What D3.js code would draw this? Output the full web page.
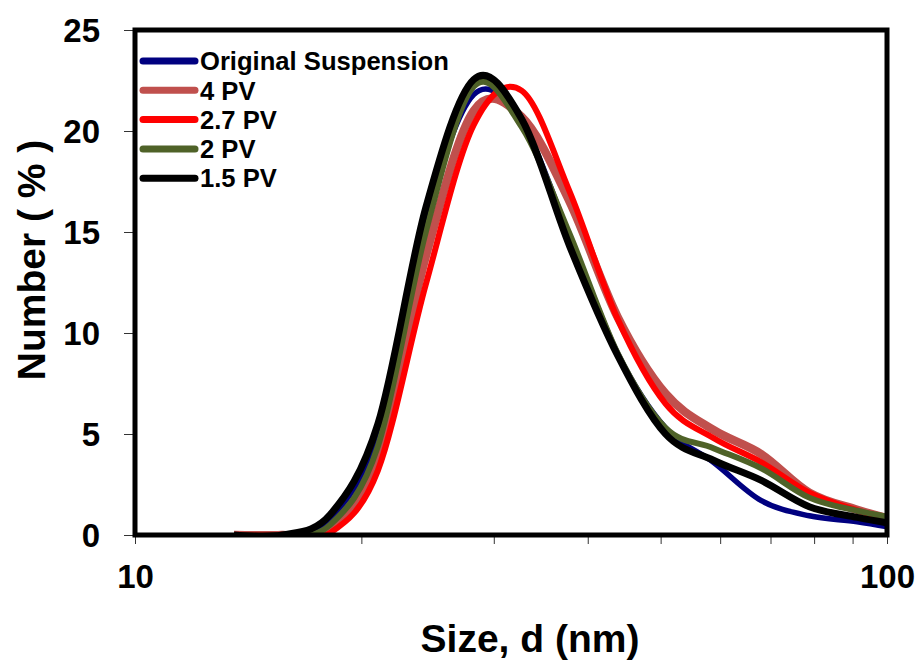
<!DOCTYPE html>
<html>
<head>
<meta charset="utf-8">
<script src="https://cdn.jsdelivr.net/npm/d3@7"></script>
<style>
  body { margin: 0; background: #fff; }
  svg { font-family: "Liberation Sans", Arial, sans-serif; font-weight: bold; }
</style>
</head>
<body>
<svg width="920" height="667"></svg>
<script>
// DLS number distribution, bin centres in nm
const sizes = [13.54, 15.69, 18.17, 21.04, 24.36, 28.21, 32.67, 37.84, 43.82, 50.75, 58.77, 68.06, 78.82, 91.28, 105.7];

const original = [0, 0, 0.8, 5.0, 15.6, 21.8, 20.4, 14.8, 9.0, 5.3, 3.6, 1.7, 0.95, 0.65, 0.25];
const pv4      = [0, 0, 0.2, 4.0, 13.8, 21.0, 20.7, 16.5, 10.8, 7.0, 5.2, 4.0, 2.1, 1.25, 0.6];
const pv27     = [0, 0, 0.1, 3.2, 12.4, 20.3, 22.0, 17.0, 10.7, 6.5, 4.8, 3.6, 2.1, 1.22, 0.6];
const pv2      = [0, 0, 0.5, 4.4, 15.0, 22.2, 20.2, 14.9, 9.0, 5.3, 4.3, 3.3, 1.85, 1.2, 0.75];
const pv15     = [0, 0, 1.0, 5.5, 16.2, 22.55, 20.6, 14.3, 8.9, 5.0, 3.7, 2.7, 1.4, 0.87, 0.45];

const seriesNames = ['Original Suspension', '4 PV', '2.7 PV', '2 PV', '1.5 PV'];
const seriesValues = [original, pv4, pv27, pv2, pv15];

const yTicks = [0, 5, 10, 15, 20, 25];
const xTicks = [10, 20, 30, 40, 50, 60, 70, 80, 90, 100];
const xLabelled = [10, 100];

const colors = ['#000080', '#C0504D', '#FF0000', '#4F6228', '#000000'];
const widths = [5.5, 8.5, 6, 6, 7];

const margin = { left: 135, top: 30, right: 33, bottom: 132 };
const width = 920 - margin.left - margin.right;
const height = 667 - margin.top - margin.bottom;

const svg = d3.select('svg');
const g = svg.append('g').attr('transform', `translate(${margin.left},${margin.top})`);

const x = d3.scaleLog().domain([10, 100]).range([0, width]);
const y = d3.scaleLinear().domain([0, 25]).range([height, 0]);

g.append('clipPath').attr('id', 'plot-clip')
  .append('rect').attr('x', 0).attr('y', -10).attr('width', width).attr('height', height + 10);

// axes
const yAxis = d3.axisLeft(y).tickValues(yTicks).tickSize(11).tickPadding(24);
const xAxis = d3.axisBottom(x).tickValues(xTicks).tickSize(9).tickPadding(21)
  .tickFormat(d => xLabelled.includes(d) ? d3.format('d')(d) : '');

g.append('g').attr('class', 'y-axis').call(yAxis);
g.append('g').attr('class', 'x-axis').attr('transform', `translate(0,${height})`).call(xAxis);

g.selectAll('.domain').remove();
g.selectAll('.tick line').attr('stroke', '#333').attr('stroke-width', 1);
g.selectAll('.tick text')
  .attr('fill', '#000')
  .style('font-size', '33px')
  .style('font-weight', 'bold')
  .style('font-family', '"Liberation Sans", Arial, sans-serif');
g.selectAll('.y-axis .tick text').attr('dy', '0.36em');

// curves
const line = d3.line()
  .x(d => x(d[0]))
  .y(d => y(d[1]))
  .curve(d3.curveCatmullRom.alpha(0));

const lines = g.append('g').attr('clip-path', 'url(#plot-clip)');
seriesValues.forEach((vals, i) => {
  lines.append('path')
    .datum(sizes.map((s, j) => [s, vals[j]]))
    .attr('fill', 'none')
    .attr('stroke', colors[i])
    .attr('stroke-width', widths[i])
    .attr('stroke-linejoin', 'round')
    .attr('d', line);
});

// frame
g.append('rect')
  .attr('x', 0).attr('y', 0)
  .attr('width', width).attr('height', height)
  .attr('fill', 'none')
  .attr('stroke', '#000')
  .attr('stroke-width', 5);

// legend
const legend = g.append('g').attr('transform', 'translate(8,31)');
seriesNames.forEach((name, i) => {
  const ly = i * 29.3;
  legend.append('line')
    .attr('x1', 0).attr('x2', 52)
    .attr('y1', ly).attr('y2', ly)
    .attr('stroke', colors[i])
    .attr('stroke-width', 7)
    .attr('stroke-linecap', 'round');
  legend.append('text')
    .attr('x', 57).attr('y', ly)
    .attr('dy', '0.36em')
    .style('font-size', '25.6px')
    .text(name);
});

// axis titles
svg.append('text')
  .attr('transform', 'translate(45,260) rotate(-90)')
  .attr('text-anchor', 'middle')
  .style('font-size', '39px')
  .text('Number ( % )');

svg.append('text')
  .attr('x', 530).attr('y', 652)
  .attr('text-anchor', 'middle')
  .style('font-size', '39px')
  .text('Size, d (nm)');
</script>
</body>
</html>
